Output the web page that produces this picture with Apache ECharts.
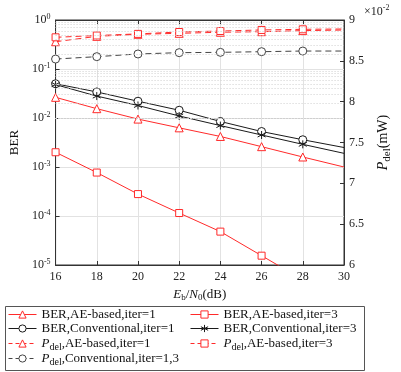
<!DOCTYPE html>
<html><head><meta charset="utf-8">
<script src="https://cdn.jsdelivr.net/npm/echarts@6/dist/echarts.min.js"></script>
<style>html,body{margin:0;padding:0;background:#fff}#c{width:401px;height:372px}</style>
</head><body><div id="c"></div>
<script>
// ---- data ----
var snr = [16, 18, 20, 22, 24, 26, 28, 30];
var berAE1 = [0.0264, 0.0155, 0.0095, 0.0063, 0.0042, 0.0026, 0.0016, 0.0010];
var berAE3 = [0.0020, 0.00077, 0.00028, 0.000115, 0.000048, 0.0000155, 0.000005, 0.0000016];
var berConv1 = [0.050, 0.034, 0.022, 0.0144, 0.0085, 0.0053, 0.0036, 0.0025];
var berConv3 = [0.048, 0.028, 0.018, 0.011, 0.0070, 0.0045, 0.0029, 0.0019];
// P_del in units of 1e-2 mW
var pdelAE1 = [8.734, 8.800, 8.825, 8.837, 8.850, 8.857, 8.870, 8.877];
var pdelAE3 = [8.788, 8.810, 8.830, 8.853, 8.865, 8.878, 8.886, 8.890];
var pdelConv = [8.522, 8.551, 8.584, 8.600, 8.604, 8.612, 8.620, 8.620];
var seriesNames = ['BER,AE-based,iter=1', 'BER,AE-based,iter=3', 'BER,Conventional,iter=1',
  'BER,Conventional,iter=3', 'Pdel,AE-based,iter=1', 'Pdel,AE-based,iter=3', 'Pdel,Conventional,iter=1,3'];

var FONT = 'Liberation Serif';
var RED = '#ff2a2a';
var BLK = '#1a1a1a';
var GRAY = '#444444';

// hide marker at the last point (x=30)
function pts(ys) {
  return snr.map(function (x, i) {
    var p = { value: [x, ys[i]] };
    if (i === snr.length - 1) p.symbol = 'none';
    return p;
  });
}

var minorLog = [];
for (var e = -5; e < 0; e++) {
  for (var k = 2; k <= 9; k++) minorLog.push({ yAxis: k * Math.pow(10, e) });
}

var starPath = 'path://M0,-5L0,5M-4.33,-2.5L4.33,2.5M-4.33,2.5L4.33,-2.5';

var chart = echarts.init(document.getElementById('c'), null, { renderer: 'canvas' });

function lineSeries(name, data, yIdx, color, symbol, dashed, symSize) {
  return {
    name: name, type: 'line', xAxisIndex: 0, yAxisIndex: yIdx, data: pts(data),
    symbol: symbol, symbolSize: symSize || 8, showAllSymbol: true,
    lineStyle: { color: color, width: 1, type: dashed ? [6, 4] : 'solid' },
    itemStyle: { color: '#fff', borderColor: color, borderWidth: 1 },
    emphasis: { disabled: true }, animation: false, clip: true, z: 3
  };
}

var series = [
  lineSeries(seriesNames[0], berAE1, 0, RED, 'triangle', false),
  lineSeries(seriesNames[1], berAE3, 0, RED, 'rect', false, 7),
  lineSeries(seriesNames[2], berConv1, 0, BLK, 'circle', false),
  lineSeries(seriesNames[3], berConv3, 0, BLK, starPath, false, 8),
  lineSeries(seriesNames[4], pdelAE1, 1, RED, 'triangle', true),
  lineSeries(seriesNames[5], pdelAE3, 1, RED, 'rect', true, 7),
  lineSeries(seriesNames[6], pdelConv, 1, GRAY, 'circle', true)
];
series[3].itemStyle = { color: BLK, borderColor: BLK, borderWidth: 1 };
series[0].markLine = {
  silent: true, symbol: ['none', 'none'], label: { show: false },
  lineStyle: { color: '#cfcfcf', type: [1, 2], width: 1 },
  data: minorLog, animation: false
};

var richLegend = {
  i: { fontFamily: FONT, fontStyle: 'italic', fontSize: 13, color: '#111' },
  sub: { fontFamily: FONT, fontSize: 10, color: '#111', padding: [7, 0, 0, 0] }
};
function legFmt(name) {
  if (name.indexOf('Pdel') === 0) return '{i|P}{sub|del}' + name.slice(4);
  return name;
}
// legend slots: [series index, left, top]
var legendSlots = [[0, 8, 308], [1, 190, 308], [2, 8, 322], [3, 190, 322],
  [4, 8, 337], [5, 190, 337], [6, 8, 352]];
var legends = legendSlots.map(function (s) {
  var dashed = s[0] >= 4;
  return {
    orient: 'horizontal', left: s[1], top: s[2], itemWidth: 28, itemHeight: 9, padding: 0,
    selectedMode: false, formatter: legFmt, data: [seriesNames[s[0]]],
    lineStyle: { width: 1, type: dashed ? [4, 3] : 'solid' }, itemStyle: { borderWidth: 1 },
    textStyle: { fontFamily: FONT, fontSize: 13, color: '#111', rich: richLegend }
  };
});

var option = {
  backgroundColor: '#fff',
  animation: false,
  grid: { left: 50, right: 39, top: 20, bottom: 107, show: true, borderColor: '#333', borderWidth: 1 },
  xAxis: [{
    type: 'value', min: 16, max: 30, interval: 2,
    name: '{i|E}{sub|b}{n|/}{i|N}{sub|0}{n|(dB)}', nameLocation: 'middle', nameGap: 17,
    nameTextStyle: { fontFamily: FONT, fontSize: 13, color: '#111', rich: {
      i: { fontFamily: FONT, fontStyle: 'italic', fontSize: 13, color: '#111' },
      sub: { fontFamily: FONT, fontSize: 9, color: '#111', padding: [6, 0, 0, 0] },
      n: { fontFamily: FONT, fontSize: 13, color: '#111' } } },
    axisLine: { lineStyle: { color: '#333' } },
    axisTick: { inside: true, length: 4, lineStyle: { color: '#333' } },
    axisLabel: { fontFamily: FONT, fontSize: 12, color: '#222', margin: 6 },
    splitLine: { show: true, lineStyle: { color: '#e2e2e2', width: 1 } }
  }, {
    type: 'value', min: 16, max: 30, interval: 2, position: 'top',
    axisLine: { show: true, lineStyle: { color: '#333' } },
    axisTick: { inside: true, length: 4, lineStyle: { color: '#333' } },
    axisLabel: { show: false }, splitLine: { show: false }
  }],
  yAxis: [{
    type: 'log', min: 1e-5, max: 1, logBase: 10,
    name: 'BER', nameLocation: 'middle', nameGap: 33, nameRotate: 90,
    nameTextStyle: { fontFamily: FONT, fontSize: 13, color: '#111' },
    axisLine: { show: true, lineStyle: { color: '#333' } },
    axisTick: { inside: true, length: 4, lineStyle: { color: '#333' } },
    axisLabel: {
      fontFamily: FONT, fontSize: 12, color: '#222', margin: 5,
      formatter: function (v) { return '{b|10}{s|' + Math.round(Math.log10(v)) + '}'; },
      rich: {
        b: { fontFamily: FONT, fontSize: 12, color: '#222' },
        s: { fontFamily: FONT, fontSize: 8, color: '#222', padding: [0, 0, 7, 0] }
      }
    },
    splitLine: { show: true, lineStyle: { color: '#e2e2e2', width: 1 } }
  }, {
    type: 'value', min: 6, max: 9, interval: 0.5, position: 'right',
    name: '{i|P}{sub|del}{n|(mW)}', nameLocation: 'middle', nameGap: 30, nameRotate: 90,
    nameTextStyle: { fontFamily: FONT, fontSize: 14, color: '#111', rich: {
      i: { fontFamily: FONT, fontStyle: 'italic', fontSize: 14, color: '#111' },
      sub: { fontFamily: FONT, fontSize: 11, color: '#111', padding: [8, 0, 0, 0] },
      n: { fontFamily: FONT, fontSize: 14, color: '#111' } } },
    axisLine: { show: true, lineStyle: { color: '#333' } },
    axisTick: { inside: true, length: 4, lineStyle: { color: '#333' } },
    axisLabel: { fontFamily: FONT, fontSize: 12, color: '#222', margin: 5,
      formatter: function (v) { return String(v); } },
    splitLine: { show: false }
  }],
  legend: legends,
  graphic: [
    { type: 'rect', left: 3, top: 304, shape: { width: 359, height: 64 },
      style: { fill: 'none', stroke: '#555', lineWidth: 1 }, silent: true, z: -1 },
    { type: 'text', left: 364, top: 4,
      style: { text: '{a|×10}{s|-2}', rich: {
        a: { fontFamily: FONT, fontSize: 12, fill: '#222' },
        s: { fontFamily: FONT, fontSize: 8, fill: '#222', padding: [0, 0, 7, 0] } } } }
  ],
  series: series
};
chart.setOption(option);
</script>
</body></html>
